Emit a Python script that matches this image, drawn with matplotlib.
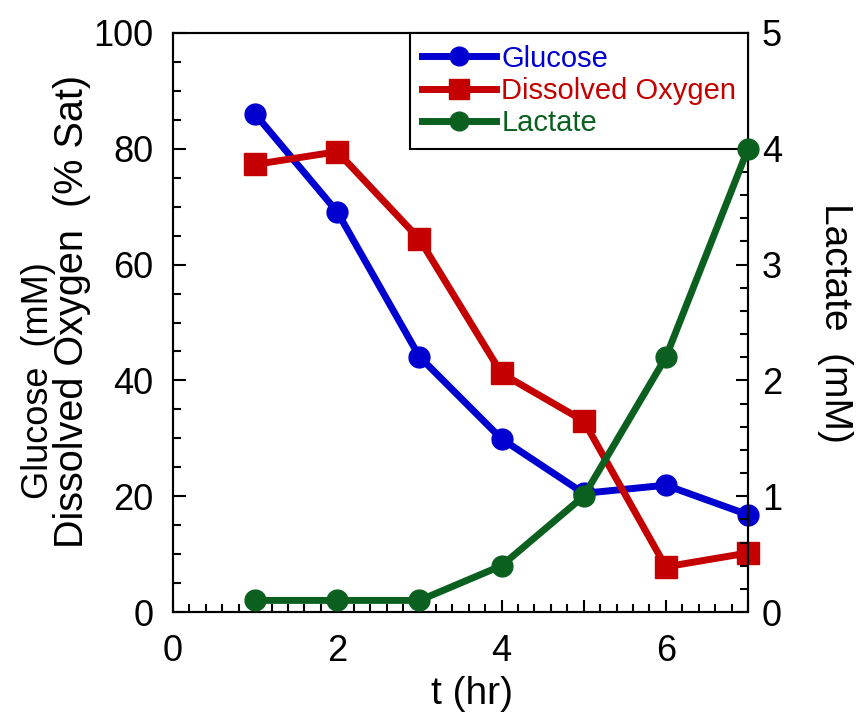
import matplotlib.pyplot as plt
from matplotlib.ticker import MultipleLocator, FuncFormatter

plt.rcParams['font.family'] = ['Liberation Sans', 'DejaVu Sans']

# data
t = [1, 2, 3, 4, 5, 6, 7]
glucose = [86.0, 69.1, 44.1, 29.9, 20.5, 21.9, 16.8]
dissolved_o2 = [77.3, 79.5, 64.4, 41.2, 33.0, 7.8, 10.2]
lactate = [0.1, 0.1, 0.1, 0.4, 1.0, 2.2, 4.0]

blue = '#0000d0'
red = '#c40000'
green = '#0b6020'

W, H = 860, 713
fig = plt.figure(figsize=(W / 100, H / 100), dpi=100)
ax = fig.add_axes([173 / W, 1 - 612 / H, (748 - 173) / W, (612 - 33) / H])
ax2 = ax.twinx()

l1, = ax.plot(t, glucose, '-o', color=blue, lw=5, ms=15, label='Glucose', clip_on=False)
l2, = ax.plot(t, dissolved_o2, '-s', color=red, lw=5, ms=16, label='Dissolved Oxygen', clip_on=False)
l3, = ax2.plot(t, lactate, '-o', color=green, lw=5, ms=15, label='Lactate', clip_on=False, zorder=6)

ax.set_xlim(0, 7)
ax.set_ylim(0, 100)
ax2.set_ylim(0, 5)

ax.xaxis.set_major_locator(MultipleLocator(1))
ax.xaxis.set_minor_locator(MultipleLocator(0.2))
ax.xaxis.set_major_formatter(FuncFormatter(lambda v, p: '%d' % v if int(round(v)) % 2 == 0 else ''))
ax.yaxis.set_major_locator(MultipleLocator(20))
ax.yaxis.set_minor_locator(MultipleLocator(5))
ax2.yaxis.set_major_locator(MultipleLocator(1))
ax2.yaxis.set_minor_locator(MultipleLocator(0.2))

for a in (ax, ax2):
    a.tick_params(which='major', direction='in', length=9, width=1.5, labelsize=26)
    a.tick_params(which='minor', direction='in', length=5.5, width=1.5)
    for s in a.spines.values():
        s.set_linewidth(1.5)
ax.tick_params(axis='y', right=False, which='both', pad=14)
ax.tick_params(axis='x', top=False, which='both', pad=16)
ax2.tick_params(axis='y', pad=10)

# axis labels placed as separate texts (baseline anchored)
fig.text(472 / W, 1 - 704 / H, 't (hr)', fontsize=28, ha='center', va='baseline')
fig.text(48 / W, 1 - 381 / H, 'Glucose  (mM)', fontsize=26, rotation=90,
         rotation_mode='anchor', ha='center', va='baseline')
fig.text(83 / W, 1 - 311 / H, 'Dissolved Oxygen  (% Sat)', fontsize=28.5, rotation=90,
         rotation_mode='anchor', ha='center', va='baseline')
fig.text(825 / W, 1 - 323 / H, 'Lactate  (mM)', fontsize=28, rotation=270,
         rotation_mode='anchor', ha='center', va='baseline')

leg = ax2.legend([l1, l2, l3], ['Glucose', 'Dissolved Oxygen', 'Lactate'],
                 loc='upper right', fontsize=21, fancybox=False, framealpha=1,
                 edgecolor='black', borderaxespad=0, handlelength=2.55,
                 handletextpad=0.18, labelspacing=0.15, borderpad=0.4,
                 numpoints=1, markerscale=0.9)
leg.get_frame().set_linewidth(1.5)
leg.set_zorder(5)
for txt, c in zip(leg.get_texts(), [blue, red, green]):
    txt.set_color(c)

fig.savefig('out.png', dpi=100)
